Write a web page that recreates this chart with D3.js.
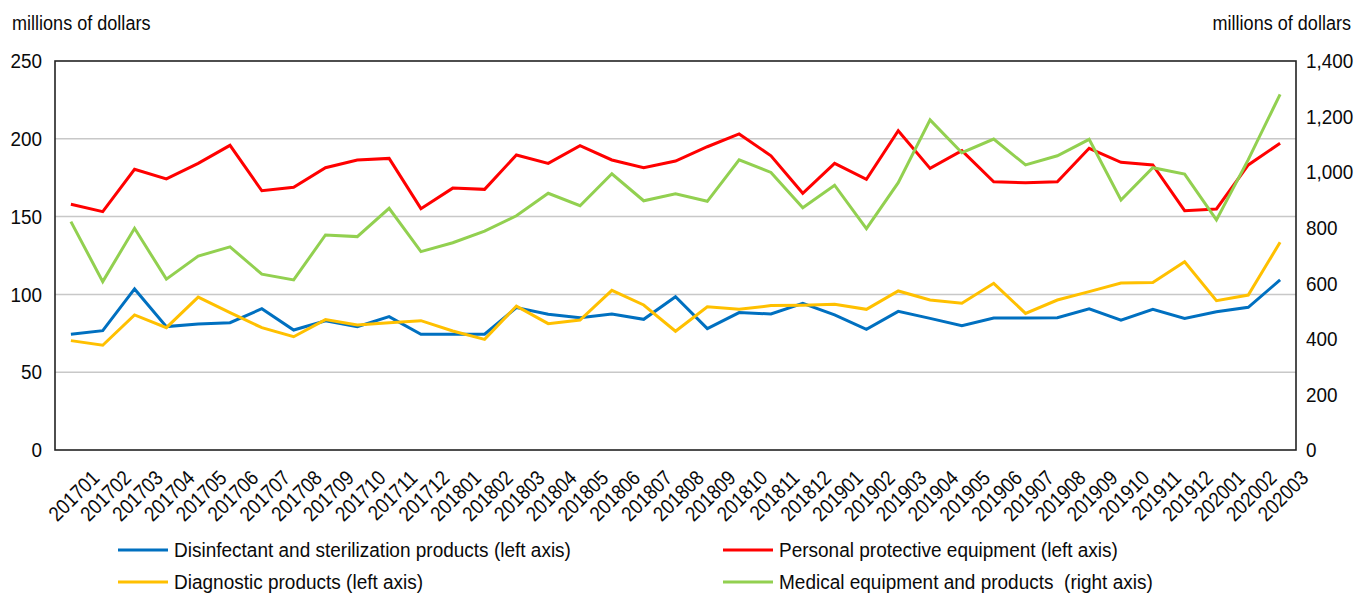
<!DOCTYPE html>
<html>
<head>
<meta charset="utf-8">
<script src="https://cdn.jsdelivr.net/npm/d3@7"></script>
<style>
  body { margin: 0; background: #fff; }
  svg text { font-family: "Liberation Sans", Arial, sans-serif; fill: #0a0a0a; }
</style>
</head>
<body>
<script>
// monthly periods
var months = ["201701","201702","201703","201704","201705","201706","201707","201708","201709","201710","201711","201712",
              "201801","201802","201803","201804","201805","201806","201807","201808","201809","201810","201811","201812",
              "201901","201902","201903","201904","201905","201906","201907","201908","201909","201910","201911","201912",
              "202001","202002","202003"];

// left axis series
var disinfectant = [74.4,76.7,103.5,79.3,81,81.8,90.8,77.1,83.1,79.3,85.7,74.4,
                    74.4,74.4,91.5,87.2,85,87.4,84,98.5,78,88.3,87.4,94.3,
                    86.8,77.6,89.1,84.6,79.9,84.8,84.8,85,90.8,83.5,90.4,84.6,
                    88.9,91.7,109.3];
var ppe = [157.9,153.2,180.4,174.2,184.2,195.8,166.6,168.8,181.4,186.4,187.4,155.1,
           168.3,167.5,189.6,184.2,195.6,186.4,181.4,185.7,194.9,203.1,189.1,165,
           184.2,174,205.2,181,192.4,172.4,171.8,172.4,193.9,184.9,183.2,153.8,
           154.9,183.2,197.1];
var diagnostic = [70.3,67.3,86.8,78.6,98.3,88.3,78.6,72.8,83.8,80.3,81.8,83.1,
                  76.5,71.1,92.5,81.2,83.5,102.6,93.2,76.3,92.1,90.4,92.8,93,
                  93.6,90.4,102.2,96.4,94.3,107.1,87.8,96.4,101.8,107.3,107.7,121,
                  96,99.6,133.5];
// right axis series
var medical = [822,606,798,615,698,731,633,612,774,768,870,714,
               746,788,843,924,879,994,897,922,895,1044,999,872,
               953,797,962,1188,1070,1119,1026,1059,1118,900,1016,993,
               828,1045,1280];

var leftTicks = [0,50,100,150,200,250];
var rightTicks = [0,200,400,600,800,1000,1200,1400];

var series = [
  {name: "Disinfectant and sterilization products (left axis)", values: disinfectant, color: "#0070C0", axis: "left"},
  {name: "Personal protective equipment (left axis)", values: ppe, color: "#FF0000", axis: "left"},
  {name: "Diagnostic products (left axis)", values: diagnostic, color: "#FFC000", axis: "left"},
  {name: "Medical equipment and products  (right axis)", values: medical, color: "#92D050", axis: "right"}
];

var W = 1368, H = 593;
var margin = {top: 61, right: 72, bottom: 143, left: 55};
var width = W - margin.left - margin.right;
var height = H - margin.top - margin.bottom;
var fs = "21px";

// narrow the text horizontally around its anchor point (condensed look)
function squeeze(sel, sx, extra) {
  sel.each(function() {
    var t = d3.select(this);
    var tx = +t.attr("x") || 0, ty = +t.attr("y") || 0;
    t.attr("x", 0).attr("y", 0)
     .attr("transform", (extra || "") + " translate(" + tx + "," + ty + ") scale(" + sx + ",1)");
  });
}

var svg = d3.select("body").append("svg")
    .attr("width", W)
    .attr("height", H);

var g = svg.append("g")
    .attr("transform", "translate(" + margin.left + "," + margin.top + ")");

var x = d3.scalePoint()
    .domain(months)
    .range([0, width])
    .padding(0.5);

var yL = d3.scaleLinear().domain([0, 250]).range([height, 0]);
var yR = d3.scaleLinear().domain([0, 1400]).range([height, 0]);

// gridlines
g.selectAll(".grid")
    .data(leftTicks.filter(function(d) { return d > 0 && d < 250; }))
    .enter().append("line")
    .attr("x1", 0).attr("x2", width)
    .attr("y1", function(d) { return yL(d); })
    .attr("y2", function(d) { return yL(d); })
    .attr("stroke", "#c8c8c8")
    .attr("stroke-width", 1.5);

// frame
g.append("rect")
    .attr("width", width).attr("height", height)
    .attr("fill", "none")
    .attr("stroke", "#222")
    .attr("stroke-width", 1.6);

// left axis
var leftAxis = g.append("g")
    .call(d3.axisLeft(yL).tickValues(leftTicks).tickSize(0).tickPadding(13));
leftAxis.select(".domain").remove();
leftAxis.selectAll("text").style("font-size", fs).attr("fill", "#0a0a0a");
squeeze(leftAxis.selectAll("text"), 0.9);

// right axis
var rightAxis = g.append("g")
    .attr("transform", "translate(" + width + ",0)")
    .call(d3.axisRight(yR).tickValues(rightTicks).tickSize(0).tickPadding(10).tickFormat(d3.format(",")));
rightAxis.select(".domain").remove();
rightAxis.selectAll("text").style("font-size", fs).attr("fill", "#0a0a0a");
squeeze(rightAxis.selectAll("text"), 0.9);

// bottom axis, rotated labels
var bottomAxis = g.append("g")
    .attr("transform", "translate(0," + height + ")")
    .call(d3.axisBottom(x).tickSize(0));
bottomAxis.select(".domain").remove();
bottomAxis.selectAll("text")
    .style("font-size", fs)
    .attr("fill", "#0a0a0a")
    .attr("text-anchor", "end")
    .attr("y", 0)
    .attr("dy", "0.35em");
squeeze(bottomAxis.selectAll("text"), 0.875, "translate(24,24) rotate(-45)");

// lines
series.forEach(function(s) {
  var yS = s.axis === "left" ? yL : yR;
  var line = d3.line()
      .x(function(d, i) { return x(months[i]); })
      .y(function(d) { return yS(d); });
  g.append("path")
      .datum(s.values)
      .attr("fill", "none")
      .attr("stroke", s.color)
      .attr("stroke-width", 3)
      .attr("stroke-linejoin", "miter")
      .attr("d", line);
});

// axis titles
svg.append("text")
    .attr("x", 12).attr("y", 30)
    .style("font-size", fs)
    .text("millions of dollars")
    .call(squeeze, 0.86);
svg.append("text")
    .attr("x", 1351).attr("y", 30)
    .attr("text-anchor", "end")
    .style("font-size", fs)
    .text("millions of dollars")
    .call(squeeze, 0.86);

// legend
var legendPos = [[118, 550], [723, 550], [118, 582], [723, 582]];
series.forEach(function(s, i) {
  var p = legendPos[i];
  var lg = svg.append("g").attr("transform", "translate(" + p[0] + "," + p[1] + ")");
  lg.append("line")
      .attr("x1", 0).attr("x2", 50)
      .attr("stroke", s.color)
      .attr("stroke-width", 3);
  lg.append("text")
      .attr("x", 56)
      .attr("dy", "0.35em")
      .style("font-size", fs)
      .style("white-space", "pre")
      .text(s.name)
      .call(squeeze, 0.905);
});
</script>
</body>
</html>
